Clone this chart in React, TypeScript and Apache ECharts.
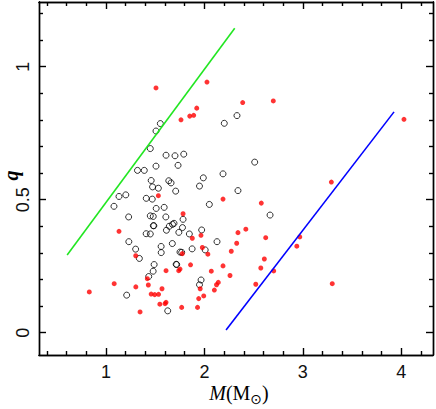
import React, { useEffect, useRef } from "react";
import * as echarts from "echarts";

// Filled red points: M (solar masses) and q
const redM = [1.508, 2.026, 1.762, 1.851, 1.891, 1.922, 2.389, 2.700, 4.028, 3.290, 2.189, 1.532, 2.578, 1.783, 1.132, 1.877, 1.965, 1.979, 2.035, 1.775, 1.302, 1.610, 1.752, 1.739, 1.859, 2.070, 1.420, 1.430, 1.303, 1.083, 0.830, 1.569, 1.459, 1.495, 1.534, 1.547, 1.600, 1.610, 1.346, 1.769, 1.930, 1.942, 1.993, 1.957, 2.101, 2.123, 2.141, 2.189, 2.260, 2.273, 2.328, 2.341, 2.421, 2.623, 2.609, 2.573, 2.522, 2.704, 2.969, 2.939, 3.299];
const redQ = [0.920, 0.942, 0.800, 0.814, 0.817, 0.844, 0.865, 0.871, 0.802, 0.566, 0.502, 0.515, 0.487, 0.447, 0.381, 0.355, 0.366, 0.320, 0.295, 0.297, 0.289, 0.233, 0.239, 0.233, 0.255, 0.231, 0.203, 0.179, 0.172, 0.184, 0.153, 0.165, 0.145, 0.143, 0.144, 0.107, 0.109, 0.114, 0.078, 0.095, 0.095, 0.128, 0.138, 0.165, 0.160, 0.180, 0.189, 0.251, 0.215, 0.306, 0.336, 0.376, 0.389, 0.357, 0.277, 0.243, 0.182, 0.232, 0.360, 0.325, 0.184];

// Open circles
const openM = [1.552, 1.508, 1.450, 1.610, 1.701, 1.790, 1.732, 1.508, 1.320, 1.389, 1.459, 1.473, 1.532, 1.638, 1.661, 1.708, 1.989, 1.950, 2.331, 2.202, 2.511, 2.189, 2.341, 1.132, 1.201, 1.409, 1.470, 1.081, 1.510, 1.591, 2.050, 1.230, 1.450, 1.480, 1.608, 1.783, 1.481, 1.486, 1.408, 1.450, 1.614, 1.643, 1.676, 1.691, 1.740, 1.777, 1.847, 1.972, 2.128, 1.232, 1.301, 1.339, 1.560, 1.561, 1.674, 1.752, 1.769, 1.875, 2.008, 1.713, 1.718, 1.489, 1.479, 1.434, 1.966, 1.950, 1.210, 1.627, 2.667];
const openQ = [0.786, 0.758, 0.692, 0.667, 0.665, 0.671, 0.629, 0.626, 0.610, 0.610, 0.572, 0.548, 0.543, 0.571, 0.563, 0.532, 0.582, 0.551, 0.816, 0.787, 0.641, 0.597, 0.534, 0.512, 0.518, 0.505, 0.502, 0.475, 0.467, 0.471, 0.482, 0.435, 0.439, 0.437, 0.435, 0.426, 0.402, 0.402, 0.372, 0.371, 0.385, 0.400, 0.407, 0.411, 0.377, 0.395, 0.371, 0.386, 0.342, 0.342, 0.314, 0.279, 0.324, 0.301, 0.335, 0.303, 0.302, 0.315, 0.311, 0.257, 0.256, 0.256, 0.231, 0.211, 0.198, 0.180, 0.141, 0.082, 0.442];

// Boundary lines (endpoints)
const greenM = [0.605, 2.308];
const greenQ = [0.292, 1.144];
const blueM = [2.22, 3.927];
const blueQ = [0.01, 0.83];

// Ticks
const xMajor = [1, 2, 3, 4];
const xMinor = [0.4, 0.6, 0.8, 1.2, 1.4, 1.6, 1.8, 2.2, 2.4, 2.6, 2.8, 3.2, 3.4, 3.6, 3.8, 4.2];
const yMajor = [0, 0.5, 1];
const yMinor = [0.1, 0.2, 0.3, 0.4, 0.6, 0.7, 0.8, 0.9, 1.1, 1.2];

const X_MIN = 0.319;
const X_MAX = 4.323;
const Y_MIN = -0.084;
const Y_MAX = 1.243;

export default function App() {
  const ref = useRef<HTMLDivElement>(null);
  useEffect(() => {
    if (!ref.current) return;
    const chart = echarts.init(ref.current, null, { renderer: "svg" });
    const lineStyle = { color: "#000", width: 1.4 };
    const labelStyle = {
      color: "#111",
      fontSize: 18,
      fontFamily: "Liberation Sans, Arial, sans-serif",
    };
    const mkX = (position: string, vals: number[], len: number, labels: boolean, extra: any = {}) => ({
      type: "value",
      position,
      min: X_MIN,
      max: X_MAX,
      axisLine: { show: true, onZero: false, lineStyle },
      axisTick: { show: true, inside: true, length: len, customValues: vals, lineStyle },
      axisLabel: labels
        ? { show: true, customValues: vals, margin: 8, ...labelStyle }
        : { show: false },
      splitLine: { show: false },
      ...extra,
    });
    const mkY = (position: string, vals: number[], len: number, labels: boolean, extra: any = {}) => ({
      type: "value",
      position,
      min: Y_MIN,
      max: Y_MAX,
      axisLine: { show: true, onZero: false, lineStyle },
      axisTick: { show: true, inside: true, length: len, customValues: vals, lineStyle },
      axisLabel: labels
        ? { show: true, customValues: vals, margin: 7, rotate: 90, ...labelStyle }
        : { show: false },
      splitLine: { show: false },
      ...extra,
    });
    const serif = "Liberation Serif, Times New Roman, serif";
    chart.setOption({
      animation: false,
      backgroundColor: "#fff",
      grid: {
        left: 39,
        right: 3,
        top: 2,
        bottom: 54,
        containLabel: false,
        outerBoundsMode: "none",
      },
      xAxis: [
        mkX("bottom", xMajor, 7, true, {
          name: "{i|M}{r|(M}{s|⊙}{r|)}",
          nameLocation: "middle",
          nameGap: 25,
          nameMoveOverlap: false,
          nameTextStyle: {
            padding: [0, 0, 0, 6],
            rich: {
              i: { fontFamily: serif, fontStyle: "italic", fontSize: 20, color: "#000" },
              r: { fontFamily: serif, fontSize: 20, color: "#000" },
              s: { fontFamily: "DejaVu Sans", fontSize: 14, color: "#000", padding: [12, 0, 0, 0] },
            },
          },
        }),
        mkX("bottom", xMinor, 4, false),
        mkX("top", xMajor, 7, false),
        mkX("top", xMinor, 4, false),
      ],
      yAxis: [
        mkY("left", yMajor, 7, true, {
          name: "q",
          nameLocation: "middle",
          nameGap: 18,
          nameMoveOverlap: false,
          nameTextStyle: {
            fontFamily: serif,
            fontStyle: "italic",
            fontWeight: "bold",
            fontSize: 20,
            color: "#000",
            padding: [0, 0, 0, 6],
          },
        }),
        mkY("left", yMinor, 4, false),
        mkY("right", yMajor, 7, false),
        mkY("right", yMinor, 4, false),
      ],
      series: [
        {
          type: "line",
          data: greenM.map((m, i) => [m, greenQ[i]]),
          showSymbol: false,
          symbol: "none",
          lineStyle: { color: "#22e622", width: 1.6 },
          silent: true,
        },
        {
          type: "line",
          data: blueM.map((m, i) => [m, blueQ[i]]),
          showSymbol: false,
          symbol: "none",
          lineStyle: { color: "#0000ff", width: 1.6 },
          silent: true,
        },
        {
          type: "scatter",
          data: openM.map((m, i) => [m, openQ[i]]),
          symbol: "circle",
          symbolSize: 6,
          itemStyle: { color: "rgba(0,0,0,0)", borderColor: "#000", borderWidth: 1 },
        },
        {
          type: "scatter",
          data: redM.map((m, i) => [m, redQ[i]]),
          symbol: "circle",
          symbolSize: 5,
          itemStyle: { color: "#ff0000" },
        },
      ],
    });
    return () => chart.dispose();
  }, []);
  return (
    <div
      ref={ref}
      style={{ position: "fixed", left: 0, top: 0, width: 436, height: 409, background: "#fff" }}
    />
  );
}
